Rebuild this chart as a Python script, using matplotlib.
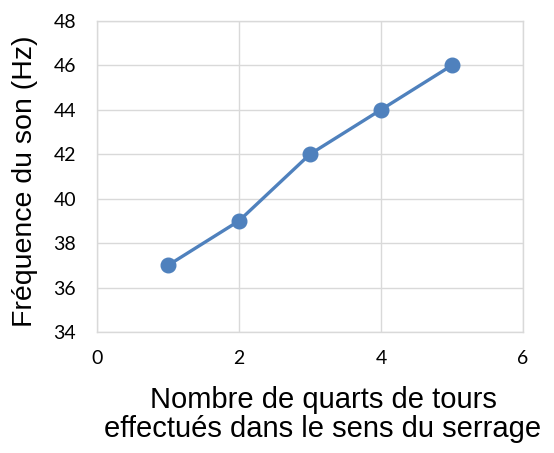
import matplotlib
matplotlib.use("Agg")
import matplotlib.pyplot as plt

quarts = [1, 2, 3, 4, 5]
freq = [37, 39, 42, 44, 46]
xticks = [0, 2, 4, 6]
yticks = [34, 36, 38, 40, 42, 44, 46, 48]

grid_c = '#D9D9D9'
blue = '#4F81BD'

fig = plt.figure(figsize=(5.54, 4.53), dpi=100)
ax = fig.add_axes([0.175, 0.267, 0.769, 0.687])

ax.plot(quarts, freq, color=blue, lw=2.4, marker='o', ms=10.5, zorder=3, clip_on=False)

ax.set_xlim(0, 6)
ax.set_ylim(34, 48)
ax.set_xticks(xticks)
ax.set_yticks(yticks)
ax.grid(True, color=grid_c, lw=1.0)
ax.set_axisbelow(True)
for s in ax.spines.values():
    s.set_color(grid_c)
    s.set_linewidth(1.0)
ax.tick_params(length=0, labelsize=14)
ax.tick_params(axis='x', pad=13)
ax.tick_params(axis='y', pad=15)
for lab in ax.get_xticklabels() + ax.get_yticklabels():
    lab.set_family(['Lato', 'DejaVu Sans'])

fig.text(0.045, 0.60, 'Fréquence du son (Hz)', rotation=90, ha='center', va='center',
         fontsize=20.5, family='Liberation Sans')
fig.text(0.583, 0.084, 'Nombre de quarts de tours\neffectués dans le sens du serrage',
         ha='center', va='center', fontsize=21, family='Liberation Sans', linespacing=1.05)

fig.savefig('out.png', dpi=100)
